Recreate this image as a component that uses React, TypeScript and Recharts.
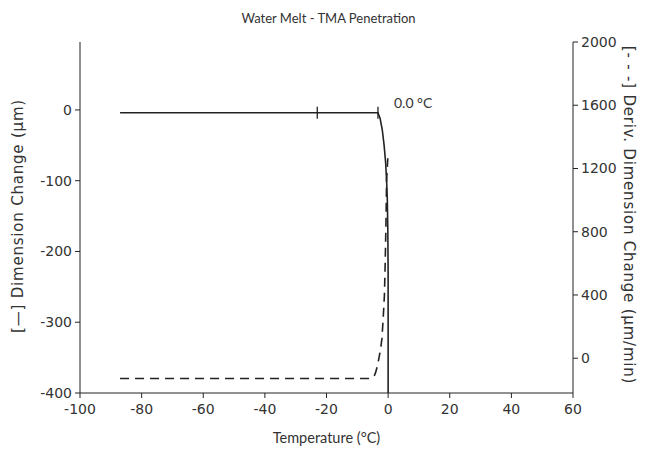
import { ComposedChart, Line, Scatter, XAxis, YAxis, ReferenceDot } from "recharts";

// Dimension change (µm), left axis
const dimTemp = [-87, -60, -40, -23, -10, -5, -3.3, -2.6, -1.9, -1.3, -0.8, -0.5, -0.26, -0.1, 0, 0];
const dimValue = [-4, -4, -4, -4, -4, -4, -4, -12, -28, -50, -75, -100, -127, -170, -230, -400];

// Derivative of dimension change (µm/min), right axis
const derivTemp = [-87, -60, -40, -20, -6, -4.6, -4.1, -3.4, -2.4, -2.0, -1.6, -1.2, -1.0, -0.7, -0.5, -0.1];
const derivValue = [-128, -128, -128, -128, -128, -115, -93, -44, 63, 127, 253, 400, 557, 850, 1127, 1265];

// small tick marks drawn on the solid curve
const markTemp = [-23, -3.3];
const markValue = [-4, -4];

const xTicks = [-100, -80, -60, -40, -20, 0, 20, 40, 60];
const leftTicks = [-400, -300, -200, -100, 0];
const rightTicks = [0, 400, 800, 1200, 1600, 2000];

const onsetLabel = "0.0 °C";

const dimData = dimTemp.map((t, i) => ({ t, v: dimValue[i] }));
const derivData = derivTemp.map((t, i) => ({ t, d: derivValue[i] }));
const markData = markTemp.map((t, i) => ({ t, v: markValue[i] }));

const FONT = "Lato, 'Open Sans', sans-serif";
const WIDE = "'DejaVu Sans', sans-serif";
const INK = "#222";
const TEXT = "#333";

const tickStyle = { fontSize: 14, fill: TEXT, fontFamily: WIDE };
const sideTitle = { fontSize: 15, fill: TEXT, fontFamily: WIDE, letterSpacing: 0.8 };

function TickMark(props: any) {
  const { cx, cy } = props;
  return <line x1={cx} x2={cx} y1={cy - 6} y2={cy + 6} stroke={INK} strokeWidth={1.3} />;
}

export default function App() {
  return (
    <div style={{ position: "absolute", left: 0, top: 0, width: 657, height: 452, background: "#fff", fontFamily: FONT }}>
      <div
        style={{
          position: "absolute",
          top: 10,
          width: 657,
          textAlign: "center",
          fontSize: 13,
          color: TEXT,
        }}
      >
        Water Melt - TMA Penetration
      </div>
      <ComposedChart width={657} height={452} margin={{ top: 42, right: 24, bottom: 29, left: 20 }}>
        <XAxis
          type="number"
          dataKey="t"
          domain={[-100, 60]}
          ticks={xTicks}
          allowDataOverflow
          stroke={INK}
          tickSize={5}
          tickMargin={6}
          tick={tickStyle}
          height={30}
          label={{
            value: "Temperature (°C)",
            position: "insideBottom",
            offset: -20,
            style: { fontSize: 14.5, fill: TEXT, fontFamily: FONT },
          }}
        />
        <YAxis
          yAxisId="left"
          type="number"
          domain={[-400, 96]}
          ticks={leftTicks}
          allowDataOverflow
          stroke={INK}
          tickSize={5}
          tickMargin={3}
          tick={tickStyle}
          width={60}
          label={{
            content: () => (
              <text
                x={18}
                y={216}
                transform="rotate(-90 18 216)"
                textAnchor="middle"
                dominantBaseline="central"
                style={sideTitle}
              >
                [—] Dimension Change (µm)
              </text>
            ),
          }}
        />
        <YAxis
          yAxisId="right"
          orientation="right"
          type="number"
          domain={[-220, 2000]}
          ticks={rightTicks}
          allowDataOverflow
          stroke={INK}
          tickSize={5}
          tickMargin={3}
          tick={tickStyle}
          width={60}
          label={{
            content: () => (
              <text
                x={629}
                y={215}
                transform="rotate(90 629 215)"
                textAnchor="middle"
                dominantBaseline="central"
                style={sideTitle}
              >
                [- - -] Deriv. Dimension Change (µm/min)
              </text>
            ),
          }}
        />
        <Line
          yAxisId="right"
          data={derivData}
          dataKey="d"
          type="linear"
          stroke={INK}
          strokeWidth={1.6}
          strokeDasharray="9 6"
          dot={false}
          isAnimationActive={false}
        />
        <Line
          yAxisId="left"
          data={dimData}
          dataKey="v"
          type="linear"
          stroke={INK}
          strokeWidth={1.6}
          dot={false}
          isAnimationActive={false}
        />
        <Scatter yAxisId="left" data={markData} dataKey="v" shape={TickMark} isAnimationActive={false} />
        <ReferenceDot
          yAxisId="left"
          x={markTemp[1]}
          y={markValue[1]}
          r={0}
          ifOverflow="visible"
          label={{
            content: (p: any) => (
              <text
                x={(p.viewBox?.x ?? 0) + 16}
                y={(p.viewBox?.y ?? 0) - 10}
                dominantBaseline="central"
                style={{ fontSize: 14, fill: TEXT, fontFamily: FONT }}
              >
                {onsetLabel}
              </text>
            ),
          }}
        />
      </ComposedChart>
    </div>
  );
}
